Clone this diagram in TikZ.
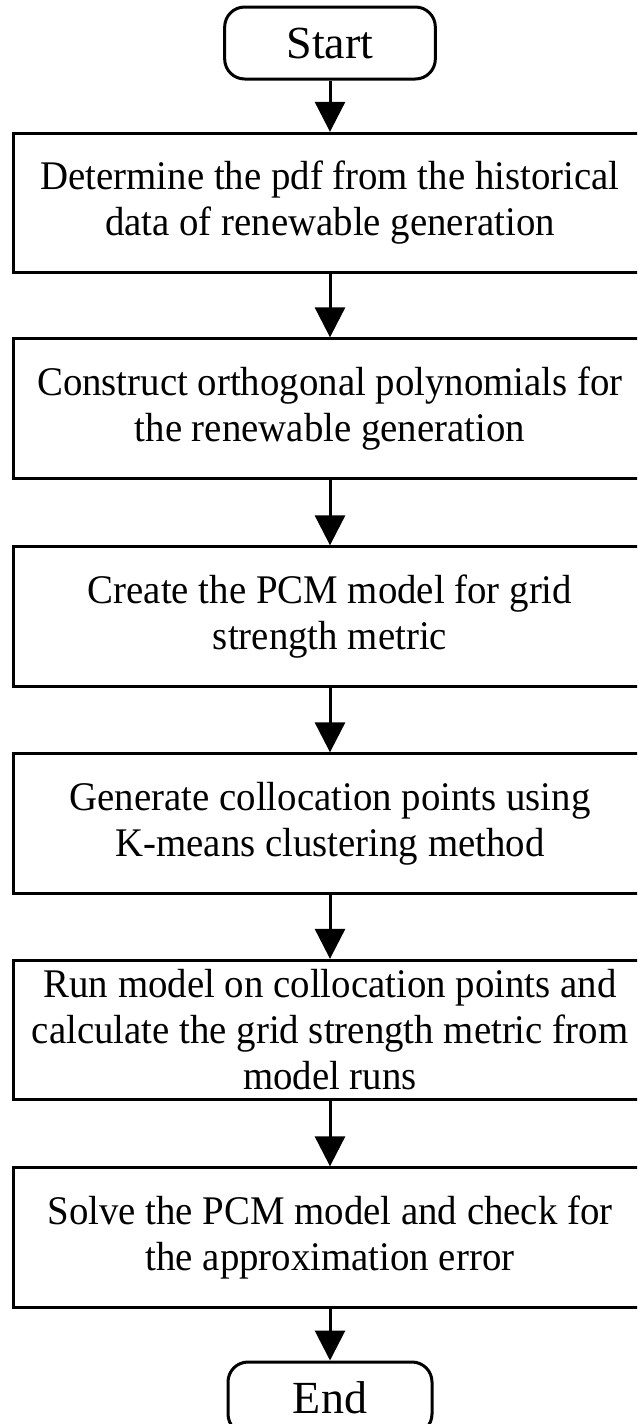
\documentclass[tikz,border=0pt]{standalone}
\usepackage{fontspec}
\setmainfont{Liberation Serif}
\newfontfamily\boxfont[FakeStretch=0.955]{Liberation Serif}
\usetikzlibrary{arrows.meta}
\begin{document}
\begin{tikzpicture}[x=0.75pt,y=-0.75pt,
  stepbox/.style={draw=black,line width=2.25pt,minimum width=475.5pt,minimum height=104.5pt,
    align=center,inner sep=0pt,font=\boxfont\fontsize{30.5pt}{34.5pt}\selectfont},
  termbox/.style={draw=black,line width=2.25pt,rounded corners=15pt,minimum height=54pt,
    inner sep=0pt,font=\fontsize{34.5pt}{38pt}\selectfont},
  flow/.style={line width=2.25pt,-{Triangle[length=22.5pt,width=22.5pt]}}]
\clip (0,0) rectangle (637,1424);
\fill[white] (0,0) rectangle (637,1424);
\node[termbox,minimum width=158pt] (start) at (330,43) {Start};
\node[stepbox] (b1) at (330,203) {Determine the pdf from the historical\\data of renewable generation};
\node[stepbox] (b2) at (330,408.5) {Construct orthogonal polynomials for\\the renewable generation};
\node[stepbox] (b3) at (330,616.5) {Create the PCM model for grid\\strength metric};
\node[stepbox] (b4) at (330,823.5) {Generate collocation points using\\K-means clustering method};
\node[stepbox] (b5) at (330,1030) {Run model on collocation points and\\calculate the grid strength metric from\\model runs};
\node[stepbox] (b6) at (330,1237.5) {Solve the PCM model and check for\\the approximation error};
\node[termbox,minimum width=153pt] (end) at (330,1398) {End};
\draw[flow] (start) -- (b1);
\draw[flow] (b1) -- (b2);
\draw[flow] (b2) -- (b3);
\draw[flow] (b3) -- (b4);
\draw[flow] (b4) -- (b5);
\draw[flow] (b5) -- (b6);
\draw[flow] (b6) -- (end);
\end{tikzpicture}
\end{document}
